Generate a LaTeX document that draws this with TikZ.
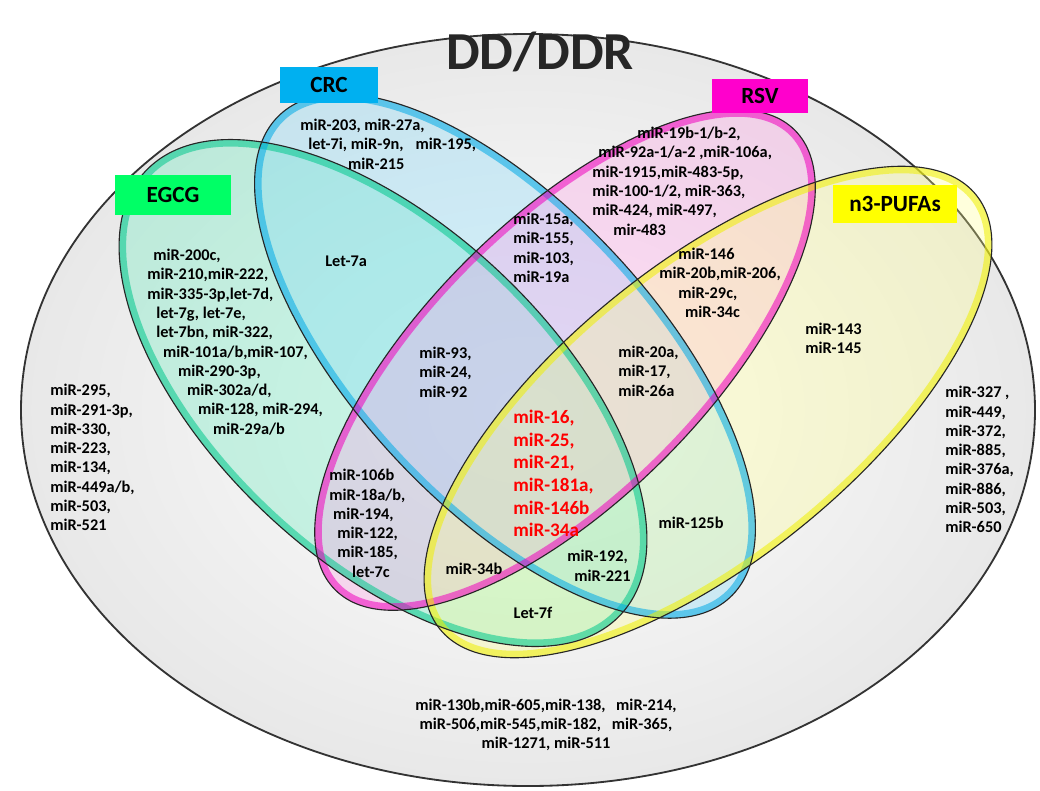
\documentclass[tikz,border=0pt]{standalone}
\usepackage{fontspec}
\setmainfont{Carlito}

\definecolor{egcgcol}{RGB}{0,255,102}
\definecolor{crccol}{RGB}{0,176,240}
\definecolor{rsvcol}{RGB}{255,0,204}
\definecolor{pufacol}{RGB}{255,255,0}
\definecolor{egcgfill}{RGB}{90,235,185}
\definecolor{crcfill}{RGB}{120,215,250}
\definecolor{rsvfill}{RGB}{255,150,228}
\definecolor{pufafill}{RGB}{255,255,140}
\definecolor{egcgrim}{RGB}{0,200,140}
\definecolor{crcrim}{RGB}{0,170,230}
\definecolor{rsvrim}{RGB}{240,0,190}
\definecolor{pufarim}{RGB}{240,240,0}

\tikzset{
  mir/.style={font=\fontsize{11.6}{13.7}\selectfont\bfseries, align=left, inner sep=0pt, anchor=north west},
  hit/.style={mir, text=red, font=\fontsize{13.6}{16.1}\selectfont\bfseries},
  tag/.style={font=\fontsize{16.5}{18}\selectfont\bfseries, inner sep=0pt},
  outline/.style={draw=black!85, line width=.8pt},
  glow/.style={line width=10pt, draw opacity=.55},
}

\begin{document}
\begin{tikzpicture}[x=0.025cm,y=0.025cm]
\useasboundingbox (0,0) rectangle (1040,-790);
\fill[white] (0,0) rectangle (1040,-790);

% DD/DDR
\shade[inner color=white, outer color=black!9] (528,-410) ellipse [x radius=507, y radius=376];
\draw[black!80, line width=1.3pt] (528,-410) ellipse [x radius=507, y radius=376];
\node[font=\fontsize{38}{42}\selectfont\bfseries, text=black!85] (title) at (540,-52) {DD/DDR};

\coordinate (egcgc) at (383,-393);
\coordinate (crcc) at (505,-356);
\coordinate (rsvc) at (565,-360);
\coordinate (pufac) at (708,-412);

% the four sets
\fill[egcgfill, fill opacity=.3, rotate around={-43:(egcgc)}] (egcgc) ellipse [x radius=325, y radius=168];
\fill[crcfill, fill opacity=.3, rotate around={-47:(crcc)}] (crcc) ellipse [x radius=330, y radius=150];
\fill[rsvfill, fill opacity=.3, rotate around={45:(rsvc)}] (rsvc) ellipse [x radius=325, y radius=140];
\fill[pufafill, fill opacity=.3, rotate around={39:(pufac)}] (pufac) ellipse [x radius=345, y radius=148];

\begin{scope}
\clip[rotate around={-43:(egcgc)}] (egcgc) ellipse [x radius=325, y radius=168];
\draw[glow, egcgrim, rotate around={-43:(egcgc)}] (egcgc) ellipse [x radius=325, y radius=168];
\end{scope}
\begin{scope}
\clip[rotate around={-47:(crcc)}] (crcc) ellipse [x radius=330, y radius=150];
\draw[glow, crcrim, rotate around={-47:(crcc)}] (crcc) ellipse [x radius=330, y radius=150];
\end{scope}
\begin{scope}
\clip[rotate around={45:(rsvc)}] (rsvc) ellipse [x radius=325, y radius=140];
\draw[glow, rsvrim, rotate around={45:(rsvc)}] (rsvc) ellipse [x radius=325, y radius=140];
\end{scope}
\begin{scope}
\clip[rotate around={39:(pufac)}] (pufac) ellipse [x radius=345, y radius=148];
\draw[glow, pufarim, rotate around={39:(pufac)}] (pufac) ellipse [x radius=345, y radius=148];
\end{scope}

\draw[outline, rotate around={-43:(egcgc)}] (egcgc) ellipse [x radius=325, y radius=168];
\draw[outline, rotate around={-47:(crcc)}] (crcc) ellipse [x radius=330, y radius=150];
\draw[outline, rotate around={45:(rsvc)}] (rsvc) ellipse [x radius=325, y radius=140];
\draw[outline, rotate around={39:(pufac)}] (pufac) ellipse [x radius=345, y radius=148];

% labels
\node[tag, fill=crccol, minimum width=2.45cm, minimum height=0.9cm] (crc) at (329,-85) {CRC};
\node[tag, fill=rsvcol, minimum width=2.4cm, minimum height=0.85cm] (rsv) at (760,-96) {RSV};
\node[tag, fill=egcgcol, minimum width=2.92cm, minimum height=1cm] (egcg) at (173,-195) {EGCG};
\node[tag, fill=pufacol, minimum width=3.1cm, minimum height=0.97cm] (pufa) at (895,-204) {n3-PUFAs};

% miRNA lists
\node[mir] (crconly) at (300,-119) {miR-203, miR-27a,\\\hspace*{5.7pt}let-7i, miR-9n,\hspace{6pt} miR-195,\\\hspace*{34pt}miR-215};
\node[mir] (rsvonly) at (592,-127) {\hspace*{32pt}miR-19b-1/b-2,\\\hspace*{4.3pt}miR-92a-1/a-2 ,miR-106a,\\miR-1915,miR-483-5p,\\miR-100-1/2, miR-363,\\miR-424, miR-497,\\\hspace*{15pt}mir-483};
\node[mir] (egcgonly) at (147,-249) {\hspace*{4.3pt}miR-200c,\\miR-210,miR-222,\\miR-335-3p,let-7d,\\\hspace*{6.4pt}let-7g, let-7e,\\\hspace*{6.4pt}let-7bn, miR-322,\\\hspace*{11.3pt}miR-101a/b,miR-107,\\\hspace*{22pt}miR-290-3p,\\\hspace*{28.4pt}miR-302a/d,\\\hspace*{36.2pt}miR-128, miR-294,\\\hspace*{46.8pt}miR-29a/b};
\node[mir] (crcrsv) at (513,-213) {miR-15a,\\miR-155,\\miR-103,\\miR-19a};
\node[mir] (rsvpufa) at (659,-248) {\hspace*{13.5pt}miR-146\\miR-20b,miR-206,\\\hspace*{13.5pt}miR-29c,\\\hspace*{18.4pt}miR-34c};
\node[mir] (pufaonly) at (805,-323) {miR-143\\miR-145};
\node[mir] (crcrsvpufa) at (618,-346) {miR-20a,\\miR-17,\\miR-26a};
\node[mir] (egcgcrc) at (325,-256) {Let-7a};
\node[mir] (egcgcrcrsv) at (419,-347) {miR-93,\\miR-24,\\miR-92};
\node[hit] (allfour) at (513,-410) {miR-16,\\miR-25,\\miR-21,\\miR-181a,\\miR-146b\\miR-34a};
\node[mir] (egcgrsv) at (329,-469) {miR-106b\\miR-18a/b,\\\hspace*{2.8pt}miR-194,\\\hspace*{5.7pt}miR-122,\\\hspace*{5.7pt}miR-185,\\\hspace*{16.3pt}let-7c};
\node[mir, anchor=center] (egcgrsvpufa) at (474,-569) {miR-34b};
\node[mir, anchor=center] (egcgpufa) at (533,-613) {Let-7f};
\node[mir] (egcgcrcpufa) at (567,-550) {miR-192,\\\hspace*{5pt}miR-221};
\node[mir, anchor=center] (crcpufa) at (691,-523) {miR-125b};
\node[mir] (leftout) at (50,-384) {miR-295,\\miR-291-3p,\\miR-330,\\miR-223,\\miR-134,\\miR-449a/b,\\miR-503,\\miR-521};
\node[mir] (rightout) at (945,-386) {miR-327 ,\\miR-449,\\miR-372,\\miR-885,\\miR-376a,\\miR-886,\\miR-503,\\miR-650};
\node[mir, align=center, anchor=center] (bottomout) at (546,-725) {miR-130b,miR-605,miR-138,\hspace{5pt} miR-214,\\miR-506,miR-545,miR-182,\hspace{5pt} miR-365,\\miR-1271, miR-511};
\end{tikzpicture}
\end{document}
